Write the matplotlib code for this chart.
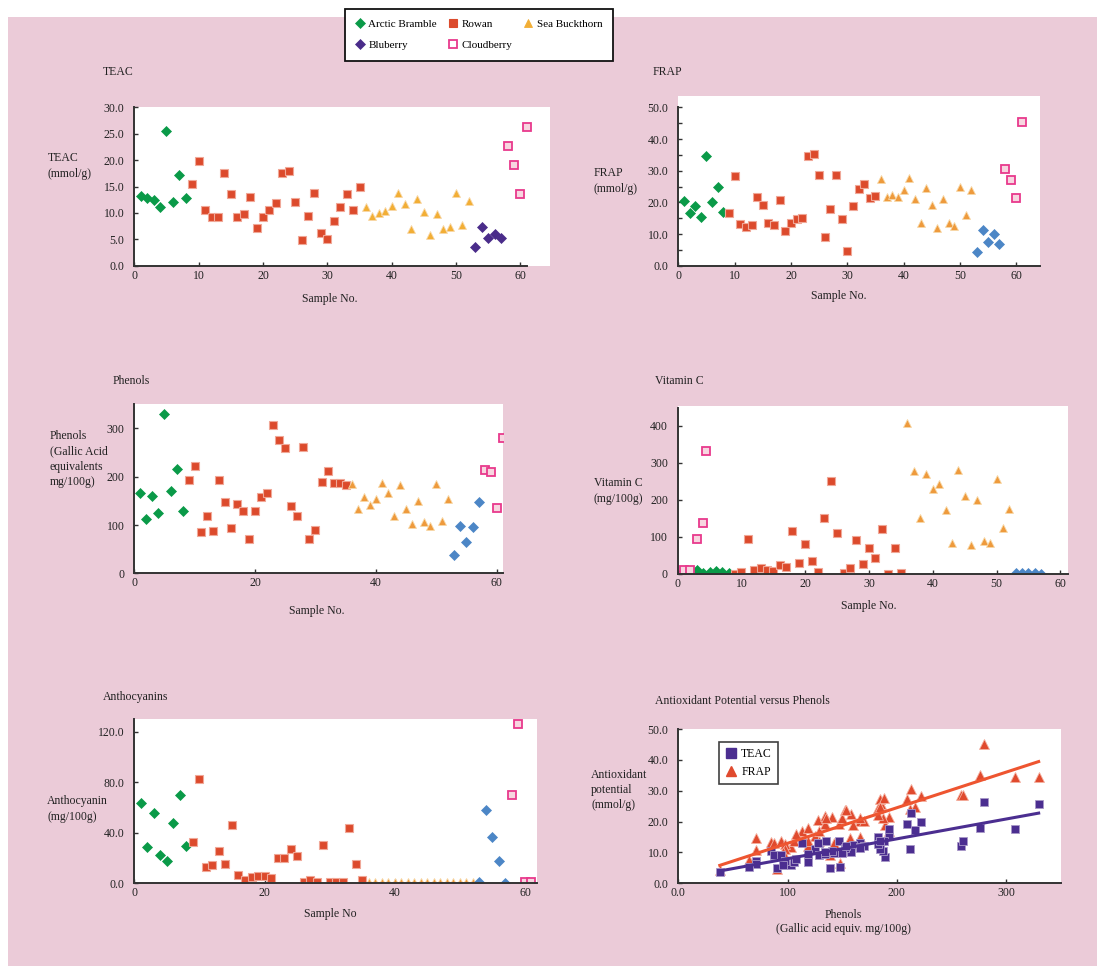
import numpy as np
import matplotlib
matplotlib.use('Agg')
import matplotlib.pyplot as plt
from matplotlib.patches import Rectangle
from matplotlib.lines import Line2D

W, H = 1101, 968
plt.rcParams['font.family'] = ['Liberation Serif', 'DejaVu Serif']
plt.rcParams['font.size'] = 8.5

# ---------------- data ----------------
bramble_x = [1, 2, 3, 4, 5, 6, 7, 8]
rowan_x = list(range(9, 36))
buckthorn_x = list(range(36, 53))
blueberry_x = [53, 54, 55, 56, 57]
cloudberry_x = [58, 59, 60, 61]

teac_bramble = [13.2, 12.9, 12.4, 11.1, 25.6, 12.0, 17.2, 12.9]
teac_rowan = [15.4, 19.8, 10.5, 9.3, 9.2, 17.5, 13.6, 9.3, 9.7, 13.1, 7.2, 9.2, 10.5, 11.9,
              17.6, 17.9, 12.0, 4.9, 9.4, 13.8, 6.1, 5.1, 8.5, 11.2, 13.6, 10.5, 15.0]
teac_buckthorn = [11.2, 9.5, 10.0, 10.4, 11.4, 13.8, 11.6, 6.9, 12.7, 10.2, 5.9, 9.7, 6.9,
                  7.3, 13.8, 7.8, 12.2]
teac_blueberry = [3.5, 7.3, 5.3, 6.0, 5.3]
teac_cloudberry = [22.7, 19.1, 13.6, 26.2]

frap_bramble = [20.3, 16.8, 18.8, 15.4, 34.5, 20.1, 24.7, 17.1]
frap_rowan = [16.8, 28.3, 13.3, 12.1, 12.9, 21.6, 19.2, 13.6, 12.9, 20.6, 10.9, 13.6, 14.7,
              15.1, 34.6, 35.2, 28.6, 9.2, 18.0, 28.6, 14.7, 4.7, 18.8, 24.2, 25.7, 21.3, 22.1]
frap_buckthorn = [27.4, 21.8, 22.3, 21.6, 23.9, 27.7, 21.2, 13.6, 24.5, 19.2, 11.8, 21.2,
                  13.6, 12.6, 24.7, 15.9, 23.9]
frap_blueberry = [4.3, 11.2, 7.4, 10.0, 6.7]
frap_cloudberry = [30.7, 27.2, 21.3, 45.3]

phen_bramble = [166, 113, 160, 125, 330, 170, 217, 129]
phen_rowan = [193, 222, 85, 119, 88, 193, 147, 94, 143, 128, 71, 129, 157, 166, 308, 276,
              259, 139, 119, 261, 71, 90, 189, 212, 186, 187, 183]
phen_buckthorn = [185, 134, 158, 141, 153, 188, 166, 119, 183, 134, 103, 150, 106, 98, 185,
                  108, 154]
phen_blueberry = [38, 98, 65, 96, 148]
phen_cloudberry = [213, 209, 135, 280]

vitc_bramble = [8, 8, 10, 3, 5, 7, 5, 2]
vitc_rowan = [0, 5, 95, 12, 17, 12, 7, 23, 20, 116, 30, 80, 35, 5, 151, 252, 111, 2, 15, 91,
              28, 71, 42, 121, 0, 70, 2]
vitc_buckthorn = [409, 279, 150, 271, 229, 244, 173, 84, 282, 211, 79, 201, 89, 84, 256,
                  124, 176]
vitc_blueberry = [2, 2, 2, 2, 0]
vitc_cloud_x = [1, 2, 3, 4, 4.4]
vitc_cloudberry = [10, 10, 94, 139, 332]

anth_bramble = [63.6, 28.8, 55.4, 22.7, 17.7, 48.0, 70.2, 29.6]
anth_rowan = [32.7, 82.8, 12.7, 14.8, 25.9, 15.6, 45.9, 6.6, 2.9, 5.3, 6.1, 6.1, 4.5, 20.1,
              20.1, 27.4, 21.4, 0.8, 2.4, 0.8, 30.3, 0.8, 0.8, 0.8, 43.5, 15.6, 2.9]
anth_buckthorn = [0.8, 0.8, 0.8, 0.8, 0.8, 0.8, 0.8, 0.8, 0.8, 0.8, 0.8, 0.8, 0.8, 0.8, 0.8,
                  0.8, 0.8]
anth_blueberry = [0.8, 57.8, 36.9, 17.7, 0.0]
anth_cloudberry = [69.7, 125.9, 0.8, 0.8]

species = ['Arctic Bramble', 'Rowan', 'Sea Buckthorn', 'Bluberry', 'Cloudberry']

# ---------------- styles ----------------
GREEN = '#0A9A48'
RED = '#DC4A2C'
ORANGE_T = '#F2AE35'
ORANGE = '#EE9A3C'
PURPLE = '#4A2C8A'
BLUE = '#4C86C6'
PINK = '#E8398C'
PINKFACE = '#F7D6E0'
BG = '#EBCBD8'
AXC = '#333333'

def st_bramble():
    return dict(marker='D', ms=4.6, mfc=GREEN, mec=GREEN, mew=0.5, ls='none')

def st_rowan():
    return dict(marker='s', ms=6.3, mfc=RED, mec='#F0A898', mew=0.8, ls='none')

def st_buck(c):
    return dict(marker='^', ms=6.3, mfc=c, mec='#F8D8A8', mew=0.6, ls='none')

def st_blue(c):
    return dict(marker='D', ms=4.6, mfc=c, mec=c, mew=0.5, ls='none')

def st_cloud():
    return dict(marker='s', ms=6.0, mfc=PINKFACE, mec=PINK, mew=1.3, ls='none')

fig = plt.figure(figsize=(W / 100, H / 100), dpi=100)
fig.patch.set_facecolor('white')
fig.patches.append(Rectangle((8 / W, 1 - 966 / H), (1097 - 8) / W, (966 - 17) / H,
                             transform=fig.transFigure, facecolor=BG, edgecolor='none',
                             zorder=-10))

def make_ax(l, r, t, b):
    ax = fig.add_axes([l / W, 1 - b / H, (r - l) / W, (b - t) / H])
    ax.set_facecolor('white')
    for s in ['top', 'right']:
        ax.spines[s].set_visible(False)
    for s in ['left', 'bottom']:
        ax.spines[s].set_color(AXC)
        ax.spines[s].set_linewidth(1.4)
    ax.tick_params(axis='both', direction='in', length=3, width=1, color=AXC,
                   labelsize=8.5, labelcolor='#222222')
    ax.tick_params(axis='x', pad=3)
    ax.tick_params(axis='y', pad=7)
    ax.tick_params(which='minor', direction='in', length=3, width=1, color=AXC)
    return ax

def ftext(x, y, s, ha='left', va='center', ls=1.35):
    fig.text(x / W, 1 - y / H, s, ha=ha, va=va, fontsize=8.5, color='#222222',
             linespacing=ls)

# ---------- Panel 1: TEAC ----------
ax1 = make_ax(134.3, 550, 107.3, 265.7)
ax1.plot(bramble_x, teac_bramble, **st_bramble())
ax1.plot(rowan_x, teac_rowan, **st_rowan())
ax1.plot(buckthorn_x, teac_buckthorn, **st_buck(ORANGE_T))
ax1.plot(blueberry_x, teac_blueberry, **st_blue(PURPLE))
ax1.plot(cloudberry_x, teac_cloudberry, **st_cloud())
ax1.set_xlim(0, 64.6)
ax1.set_ylim(0, 30)
ax1.spines['bottom'].set_bounds(0, 61)
ax1.set_xticks([0, 10, 20, 30, 40, 50, 60])
ax1.set_yticks([0, 5, 10, 15, 20, 25, 30])
ax1.set_yticklabels(['%.1f' % v for v in [0, 5, 10, 15, 20, 25, 30]])
ftext(103, 72, 'TEAC')
ftext(48, 166, 'TEAC\n(mmol/g)')
ftext(330, 299, 'Sample No.', ha='center')

# ---------- Panel 2: FRAP ----------
ax2 = make_ax(678.3, 1040, 96, 265.7)
ax2.plot(bramble_x, frap_bramble, **st_bramble())
ax2.plot(rowan_x, frap_rowan, **st_rowan())
ax2.plot(buckthorn_x, frap_buckthorn, **st_buck(ORANGE))
ax2.plot(blueberry_x, frap_blueberry, **st_blue(BLUE))
ax2.plot(cloudberry_x, frap_cloudberry, **st_cloud())
ax2.set_xlim(0, 64.2)
ax2.set_ylim(0, 53.6)
ax2.spines['left'].set_bounds(0, 50)
ax2.set_xticks([0, 10, 20, 30, 40, 50, 60])
ax2.set_yticks([0, 10, 20, 30, 40, 50])
ax2.set_yticks([5, 15, 25, 35, 45], minor=True)
ax2.set_yticklabels(['%.1f' % v for v in [0, 10, 20, 30, 40, 50]])
ftext(653, 72, 'FRAP')
ftext(594, 181, 'FRAP\n(mmol/g)')
ftext(839, 296, 'Sample No.', ha='center')

# ---------- Panel 3: Phenols ----------
ax3 = make_ax(134.3, 502.7, 404.3, 573.3)
ax3.plot(bramble_x, phen_bramble, **st_bramble())
ax3.plot(rowan_x, phen_rowan, **st_rowan())
ax3.plot(buckthorn_x, phen_buckthorn, **st_buck(ORANGE))
ax3.plot(blueberry_x, phen_blueberry, **st_blue(BLUE))
ax3.plot(cloudberry_x, phen_cloudberry, **st_cloud())
ax3.set_xlim(0, 61)
ax3.set_ylim(0, 350)
ax3.set_xticks([0, 20, 40, 60])
ax3.set_yticks([0, 100, 200, 300])
ftext(113, 381, 'Phenols')
ftext(50, 459, 'Phenols\n(Gallic Acid\nequivalents\nmg/100g)')
ftext(317, 611, 'Sample No.', ha='center')

# ---------- Panel 4: Vitamin C ----------
ax4 = make_ax(677.7, 1068, 406, 574)
ax4.plot(bramble_x, vitc_bramble, **st_bramble())
ax4.plot(rowan_x, vitc_rowan, **st_rowan())
ax4.plot(buckthorn_x, vitc_buckthorn, **st_buck(ORANGE))
ax4.plot(blueberry_x, vitc_blueberry, **st_blue(BLUE))
ax4.plot(vitc_cloud_x, vitc_cloudberry, **st_cloud())
ax4.set_xlim(0, 61.2)
ax4.set_ylim(0, 454)
ax4.spines['left'].set_bounds(0, 449)
ax4.set_xticks([0, 10, 20, 30, 40, 50, 60])
ax4.set_yticks([0, 100, 200, 300, 400])
ftext(655, 381, 'Vitamin C')
ftext(594, 491, 'Vitamin C\n(mg/100g)')
ftext(869, 606, 'Sample No.', ha='center')

# ---------- Panel 5: Anthocyanins ----------
ax5 = make_ax(134.3, 536.7, 719.3, 883.3)
ax5.plot(bramble_x, anth_bramble, **st_bramble())
ax5.plot(rowan_x, anth_rowan, **st_rowan())
ax5.plot(buckthorn_x, anth_buckthorn, **dict(st_buck(ORANGE), ms=5.2))
ax5.plot(blueberry_x, anth_blueberry, **st_blue(BLUE))
ax5.plot(cloudberry_x, anth_cloudberry, **st_cloud())
ax5.set_xlim(0, 61.8)
ax5.set_ylim(0, 130)
ax5.set_xticks([0, 20, 40, 60])
ax5.set_yticks([0, 40, 80, 120])
ax5.set_yticklabels(['%.1f' % v for v in [0, 40, 80, 120]])
ftext(103, 697, 'Anthocyanins')
ftext(47, 809, 'Anthocyanin\n(mg/100g)')
ftext(330, 914, 'Sample No', ha='center')

# ---------- Panel 6: Antioxidant vs Phenols ----------
phen_all = np.array(phen_bramble + phen_rowan + phen_buckthorn + phen_blueberry + phen_cloudberry, float)
teac_all = np.array(teac_bramble + teac_rowan + teac_buckthorn + teac_blueberry + teac_cloudberry, float)
frap_all = np.array(frap_bramble + frap_rowan + frap_buckthorn + frap_blueberry + frap_cloudberry, float)

ax6 = make_ax(678.3, 1060.5, 729, 883.3)
ax6.plot(phen_all, frap_all, marker='^', ms=6.5, mfc='#E04A2E', mec='#F4B0A0', mew=0.6,
         ls='none', zorder=3)
ax6.plot(phen_all, teac_all, marker='s', ms=6.3, mfc='#4B2E90', mec='#A898C8', mew=0.6,
         ls='none', zorder=3)
xr = np.array([phen_all.min(), phen_all.max()])
kf = np.polyfit(phen_all, frap_all, 1)
kt = np.polyfit(phen_all, teac_all, 1)
ax6.plot(xr, np.polyval(kf, xr), color='#EE5530', lw=2.2, zorder=4)
ax6.plot(xr, np.polyval(kt, xr), color='#4B2E90', lw=2.2, zorder=4)
ax6.set_xlim(0, 350)
ax6.set_ylim(0, 50)
ax6.set_xticks([0, 100, 200, 300])
ax6.set_xticklabels(['0.0', '100', '200', '300'])
ax6.set_yticks([0, 10, 20, 30, 40, 50])
ax6.set_yticklabels(['%.1f' % v for v in [0, 10, 20, 30, 40, 50]])
h_t = Line2D([], [], marker='s', ms=6.5, mfc='#4B2E90', mec='#4B2E90', ls='none')
h_f = Line2D([], [], marker='^', ms=7, mfc='#E04A2E', mec='#E04A2E', ls='none')
lg6 = ax6.legend([h_t, h_f], ['TEAC', 'FRAP'], loc='upper left',
                 bbox_to_anchor=(0.106, 0.913), borderaxespad=0, frameon=True,
                 fancybox=False, edgecolor='#111111', fontsize=8.5, handlelength=1.0,
                 handletextpad=0.4, borderpad=0.5, labelspacing=0.45)
lg6.get_frame().set_linewidth(1.2)
ftext(655, 701, 'Antioxidant Potential versus Phenols')
ftext(591, 790, 'Antioxidant\npotential\n(mmol/g)')
ftext(843, 922, 'Phenols\n(Gallic acid equiv. mg/100g)', ha='center', ls=1.25)

# ---------- top legend ----------
hb = Line2D([], [], **st_bramble())
hr = Line2D([], [], **dict(st_rowan(), mec=RED))
hs = Line2D([], [], **dict(st_buck(ORANGE_T), mec=ORANGE_T))
hbl = Line2D([], [], **st_blue(PURPLE))
hc = Line2D([], [], **dict(st_cloud(), mfc='white'))
leg = fig.legend([hb, hbl, hr, hc, hs],
                 [species[0], species[3], species[1], species[4], species[2]],
                 ncol=3, loc='upper left', bbox_to_anchor=(345 / W, 1 - 9 / H),
                 borderaxespad=0, frameon=True, fancybox=False, edgecolor='#111111',
                 facecolor='white', framealpha=1, fontsize=8, handlelength=0.8,
                 handletextpad=0.35, columnspacing=1.05, borderpad=0.95,
                 labelspacing=1.0)
leg.get_frame().set_linewidth(1.3)

fig.savefig('out.png', dpi=100, facecolor='white')
